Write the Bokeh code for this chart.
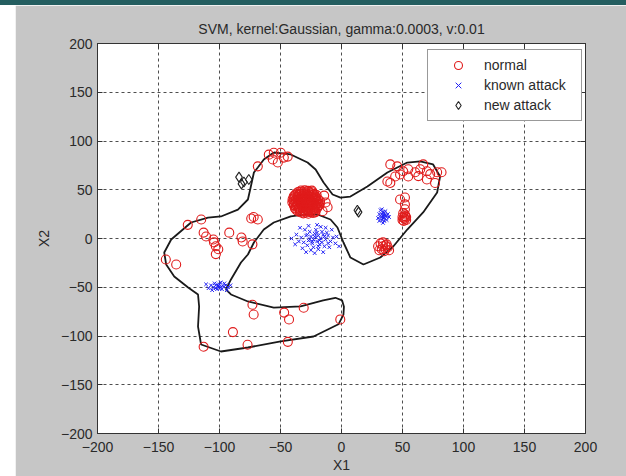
from bokeh.plotting import figure
from bokeh.models import (LinearAxis, FixedTicker, Legend, LegendItem, Spacer, Range1d)
from bokeh.layouts import column, row
from bokeh.embed import file_html
from bokeh.resources import INLINE

# ---------------- data ----------------
title_text = "SVM, kernel:Gaussian, gamma:0.0003, v:0.01"
tick_values = [-200, -150, -100, -50, 0, 50, 100, 150, 200]

normal_x = [
    # dense cluster
    -33.2, -30.1, -27.4, -24.3,
    -37.1, -34.3, -31.2, -28.4, -25.1, -22.3,
    -39.2, -36.0, -33.3, -30.2, -27.1, -24.4, -21.2,
    -40.1, -37.3, -34.1, -31.4, -28.2, -25.3, -22.1, -19.2,
    -40.3, -37.2, -34.4, -31.1, -28.3, -25.2, -22.4, -19.1,
    -39.1, -36.3, -33.2, -30.4, -27.3, -24.1, -21.3, -18.2,
    -38.2, -35.1, -32.3, -29.2, -26.4, -23.1, -20.2,
    -36.1, -33.4, -30.2, -27.1, -24.3, -21.2,
    -31.3, -27.2, -23.4,
    -35.6, -32.7, -29.8, -26.6, -23.7,
    -38.1, -35.2, -32.1, -29.3, -26.2, -23.3, -20.4,
    -38.7, -35.8, -32.6, -29.7, -26.8, -23.6, -20.7,
    -38.9, -35.7, -32.8, -29.6, -26.7, -23.8, -20.5, -17.6,
    -38.6, -35.9, -32.7, -29.8, -26.6, -23.5, -20.6, -17.8,
    -37.4, -34.6, -31.7, -28.6, -25.7, -22.6, -19.5,
    -37.2, -34.3, -31.5, -28.4, -25.6, -22.5,
    -34.1, -29.3, -25.4, -21.6,
    -13.0, -11.4, -15.5, -19.6, -14.2,
    # top
    -59.6, -55.5, -49.8, -47.3, -52.2, -56.3, -68.6, -44.1,
    # left scattered
    -72.0, -68.6, -74.0, -126.0, -115.0, -113.0, -111.0,
    -105.0, -104.5, -103.0, -101.0, -103.0, -92.0, -82.0, -73.0, -81.0,
    -144.0, -135.5,
    # bottom lobe
    -73.0, -72.0, -47.0, -43.0, -31.0, -1.0, -89.0, -113.0, -77.0, -44.0,
    # top-right group
    40.0, 45.7, 50.6, 54.7, 60.4, 64.5, 67.0, 70.0, 72.7, 78.4, 82.0,
    63.0, 70.0, 76.7, 37.6, 40.0, 44.0, 48.0, 54.7,
    # right column
    48.0, 52.0, 52.0, 52.0, 50.6, 52.0,
    51.0, 52.0, 53.0, 50.0, 52.0, 51.0, 53.0, 50.0,
    # bottom-right cluster
    32.0, 34.0, 36.0, 33.0, 30.0, 37.0, 35.0, 38.0, 34.0, 36.0, 31.0, 39.0,
]
normal_y = [
    49.2, 49.4, 48.8, 49.1,
    46.1, 45.8, 46.3, 45.9, 46.2, 45.7,
    43.2, 42.8, 43.1, 42.9, 43.3, 42.7, 43.0,
    40.1, 39.8, 40.3, 39.9, 40.2, 39.7, 40.0, 40.3,
    37.1, 36.8, 37.3, 36.9, 37.2, 36.7, 37.0, 36.9,
    34.2, 33.8, 34.1, 33.9, 34.3, 33.7, 34.0, 34.2,
    31.1, 30.9, 31.2, 30.8, 31.3, 30.7, 31.0,
    28.2, 27.8, 28.1, 27.9, 28.3, 27.7,
    25.8, 25.4, 26.1,
    47.6, 47.9, 47.4, 47.7, 47.5,
    44.5, 44.7, 44.3, 44.6, 44.4, 44.8, 44.5,
    41.5, 41.3, 41.7, 41.4, 41.6, 41.2, 41.5,
    38.6, 38.8, 38.4, 38.7, 38.5, 38.9, 38.6, 38.3,
    35.5, 35.3, 35.7, 35.4, 35.6, 35.2, 35.5, 35.8,
    32.6, 32.4, 32.8, 32.5, 32.7, 32.3, 32.6,
    29.5, 29.7, 29.3, 29.6, 29.4, 29.8,
    26.9, 26.6, 27.1, 26.8,
    37.0, 32.0, 28.0, 32.0, 44.0,
    86.0, 88.0, 88.0, 83.0, 78.0, 81.0, 74.0, 84.0,
    22.0, 19.5, 20.5, 14.0, 19.5, 6.0, 2.0,
    -1.0, -4.0, -8.0, -11.0, -16.0, 6.0, 1.0, -6.0, -3.0,
    -21.5, -26.7,
    -68.0, -78.0, -76.0, -83.0, -71.0, -83.0, -96.0, -111.0, -109.0, -106.0,
    76.0, 74.0, 69.0, 71.0, 68.0, 71.0, 76.0, 69.0, 66.0, 68.0, 68.0,
    64.0, 60.5, 57.0, 58.5, 57.0, 63.6, 65.6, 63.6,
    40.0, 42.0, 35.0, 30.0, 26.0, 24.6,
    21.0, 20.0, 22.0, 19.0, 23.0, 18.0, 19.0, 22.0,
    -5.0, -8.0, -11.0, -11.0, -8.0, -6.0, -13.0, -9.0, -4.0, -7.0, -12.0, -12.0,
]

known_x = [
    -21, -19, -23, -17, -25, -20, -22, -15, -27, -18, -24, -13, -29, -16, -26, -21,
    -11, -31, -14, -23, -28, -9, -33, -19, -12, -30, -35, -7, -17, -25, -10, -37,
    -5, -32, -20, -27, -15, -38, -4, -8, -34, -22, -41, -2, -13, -29, -18, -22,
    -16, -26, -20, -24, -19, -11, -14, -28,
    34, 33, 35, 32, 36, 34, 33, 37, 31, 35, 36, 32, 30, 38, 34, 33, 37, 35, 31, 39, 34, 35,
    -101, -99, -103, -97, -105, -100, -102, -95, -107, -98, -104, -93, -109, -100, -96,
    -106, -91, -111, -99, -103, -94, -101,
]
known_y = [
    1, 3, -1, 0, 2, -3, 5, 4, -2, -6, -5, -1, 3, 7, 7, 9,
    3, -4, -8, -9, -7, -3, 1, -11, 6, 9, -3, 1, 12, -12, -9, 4,
    -5, -10, 14, 13, -14, -6, 2, 9, 11, -15, 0, -8, 11, -14, -2, 2,
    -4, -1, 6, -3, -8, -5, 2, 4,
    23, 25, 21, 22, 24, 27, 19, 22, 25, 18, 28, 29, 21, 25, 16, 30, 19, 26, 18, 22, 21, 24,
    -49, -50, -48, -49, -50, -47, -52, -48, -48, -52, -46, -50, -51, -51, -46,
    -53, -48, -47, -45, -51, -53, -48,
]

new_x = [-84, -80, -76, -82, 13, 14]
new_y = [63, 58, 60.5, 56, 29, 27]

boundary_x = [
    -55.5, -41.6, -27.8, -21.2, -14.7, -7.3, -0.8, 7.3, 21.2, 37.6, 53.9, 64.5, 75.1,
    80.8, 78.4, 66.9, 53.9, 42.4, 31.8, 18.0, 7.3, 1.6, -3.3, -9.0, -19.6, -31.0,
    -41.6, -55.5, -63.7, -71.8, -76.7, -82.4, -90.6, -94.7, -90.6, -76.7, -55.5,
    -33.5, -15.0, -5.0, 0.5, 2.0, 1.6, -2.5, -22.9, -49.8, -76.7, -98.8, -115.1, -117.6,
    -116.7, -117.6, -125.7, -137.1, -143.7, -145.3, -139.6, -123.3, -109.4, -98.8, -84.9,
    -76.7, -74.3, -71.8, -68.6, -63.7, -55.5,
]
boundary_y = [
    88.2, 86.2, 77.9, 70.8, 57.4, 45.1, 42.0, 43.0, 53.3, 67.7, 77.9, 79.0, 75.9,
    63.6, 47.2, 26.7, 9.2, -8.2, -19.5, -26.7, -19.5, -4.1, 11.3, 19.5, 24.6, 24.6,
    22.6, 16.4, 9.2, -4.1, -16.4, -24.6, -42.0, -52.3, -57.4, -64.6, -70.8,
    -69.7, -63.5, -60.8, -63.5, -70.0, -78.0, -88.0, -100.5, -105.6, -111.8, -115.9, -108.7, -90.3,
    -69.7, -57.4, -50.3, -39.0, -26.7, -14.4, -1.0, 16.4, 21.5, 22.6, 29.7,
    40.0, 53.3, 67.7, 72.8, 81.0, 88.2,
]

# ---------------- figure ----------------
FONT = "Liberation Sans"
p = figure(width=611, height=471, output_backend="svg", toolbar_location=None,
           x_range=Range1d(-200, 200), y_range=Range1d(-200, 200),
           min_border_left=82, min_border_right=41, min_border_top=38, min_border_bottom=43,
           background_fill_color="white", border_fill_color="#c6c6c6",
           outline_line_color="#333333", outline_line_width=1)

p.title.text = title_text
p.title.align = "center"
p.title.text_font = FONT
p.title.text_font_size = "14px"
p.title.text_font_style = "normal"
p.title.text_color = "#2a2a2a"
p.title.standoff = 13

ticker = FixedTicker(ticks=tick_values)
for ax in (p.xaxis[0], p.yaxis[0]):
    ax.ticker = ticker
    ax.major_tick_in = 5
    ax.major_tick_out = 0
    ax.minor_tick_line_color = None
    ax.axis_line_color = "#333333"
    ax.major_tick_line_color = "#333333"
    ax.major_label_text_font = FONT
    ax.major_label_text_font_size = "14px"
    ax.major_label_text_color = "#2a2a2a"
    ax.axis_label_text_font = FONT
    ax.axis_label_text_font_size = "14px"
    ax.axis_label_text_font_style = "normal"
    ax.axis_label_text_color = "#2a2a2a"
p.xaxis.axis_label = "X1"
p.yaxis.axis_label = "X2"
p.xaxis.major_label_standoff = 8
p.xaxis.axis_label_standoff = 2
p.yaxis.major_label_standoff = 5
p.yaxis.axis_label_standoff = 6

for loc in ("above", "right"):
    ax = LinearAxis(ticker=ticker, major_tick_in=5, major_tick_out=0,
                    minor_tick_line_color=None, axis_line_color="#333333",
                    major_tick_line_color="#333333",
                    major_label_text_font_size="1px", major_label_text_color=None,
                    major_label_standoff=0, axis_label=None, axis_label_standoff=0)
    p.add_layout(ax, loc)

p.xgrid.ticker = ticker
p.ygrid.ticker = ticker
p.grid.grid_line_color = "#222222"
p.grid.grid_line_alpha = 0.8
p.grid.grid_line_dash = "3 3"
p.grid.grid_line_width = 1

RED = "#e01b1b"
BLUE = "#1f1ff5"

r_bound = p.line(boundary_x, boundary_y, line_color="#1a1a1a", line_width=1.8)
r_norm = p.scatter(normal_x, normal_y, marker="circle", size=9, fill_color=None,
                   line_color=RED, line_width=1.1)
r_known = p.scatter(known_x, known_y, marker="x", size=5, line_color=BLUE, line_width=1)
r_new = p.scatter(new_x, new_y, marker="diamond", size=10, fill_color=None,
                  line_color="#222222", line_width=1.1)

legend = Legend(items=[LegendItem(label="normal", renderers=[r_norm]),
                       LegendItem(label="known attack", renderers=[r_known]),
                       LegendItem(label="new attack", renderers=[r_new])],
                location=(330, 312), padding=5, spacing=0,
                glyph_width=50, glyph_height=20, label_height=20, label_width=92,
                label_standoff=1, label_text_font=FONT, label_text_font_size="14px",
                label_text_color="#2a2a2a", border_line_color="#333333",
                background_fill_color="white", background_fill_alpha=1,
                margin=0)
p.add_layout(legend)

top_strip = Spacer(width=626, height=5, styles={"background-color": "#245e60"})
left_strip = Spacer(width=15, height=471)
layout = column(top_strip, row(left_strip, p, spacing=0), spacing=0)

open("out.html", "w").write(file_html(layout, INLINE))
